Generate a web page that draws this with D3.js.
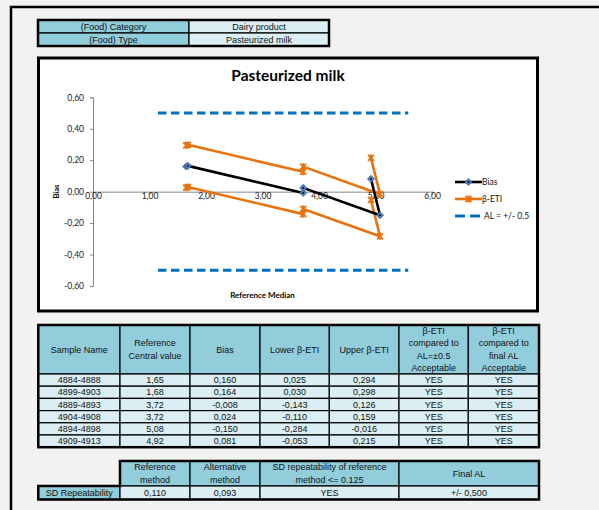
<!DOCTYPE html>
<html><head><meta charset="utf-8">
<script src="https://cdn.jsdelivr.net/npm/d3@7"></script>
<style>body{margin:0;background:#f2f2f2;} svg{display:block}</style>
</head><body><svg id="c" width="599" height="510"></svg>
<script>
// ---------------- data ----------------
const foodLabels = ["(Food) Category", "(Food) Type"];
const foodValues = ["Dairy product", "Pasteurized milk"];
const chartTitle = "Pasteurized milk";
const sampleNames = ["4884-4888","4899-4903","4889-4893","4904-4908","4894-4898","4909-4913"];
const refCentral = [1.65, 1.68, 3.72, 3.72, 5.08, 4.92];
const bias = [0.160, 0.164, -0.008, 0.024, -0.150, 0.081];
const lowerETI = [0.025, 0.030, -0.143, -0.110, -0.284, -0.053];
const upperETI = [0.294, 0.298, 0.126, 0.159, -0.016, 0.215];
const accAL = ["YES","YES","YES","YES","YES","YES"];
const accFinal = ["YES","YES","YES","YES","YES","YES"];
const alLimit = 0.5;
const alX = [1.15, 5.58];
const xTicks = [0, 1, 2, 3, 4, 5, 6];
const yTicks = [-0.6, -0.4, -0.2, 0, 0.2, 0.4, 0.6];
const legendLabels = ["Bias", "β-ETI", "AL = +/- 0.5"];
const xTitle = "Reference Median";
const yTitle = "Bias";
const headers = [["Sample Name"],["Reference","Central value"],["Bias"],["Lower β-ETI"],["Upper β-ETI"],
  ["β-ETI","compared to","AL=±0.5","Acceptable"],["β-ETI","compared to","final AL","Acceptable"]];
const sdHeaders = [["Reference","method"],["Alternative","method"],["SD repeatability of reference","method <= 0.125"],["Final AL"]];
const sdRowLabel = "SD Repeatability";
const sdValues = [0.110, 0.093];
const sdOk = "YES";
const finalAL = 0.5;

// ---------------- helpers ----------------
const loc = d3.formatLocale({decimal: ",", thousands: ".", grouping: [3], currency: ["", ""], minus: "-"});
const f2 = loc.format(".2f"), f3 = loc.format(".3f");
const svg = d3.select("#c");
const HEAD = "#92CDDC", CELL = "#DAEEF3";
const tblFont = "'Liberation Sans', Arial, sans-serif";
const chFont = "Lato, 'Open Sans', sans-serif";
const ORANGE = "#E8720C", BLUE = "#0070C0";

// outer frame
svg.append("path").attr("d", "M11,520L11,7L610,7").attr("fill", "none").attr("stroke", "#000").attr("stroke-width", 2.5);

function cell(g, x0, x1, y0, y1, fill, lines, fs, lh) {
  g.append("rect").attr("x", x0).attr("y", y0).attr("width", x1 - x0).attr("height", y1 - y0)
    .attr("fill", fill).attr("stroke", "#000").attr("stroke-width", 1.2);
  const cy = (y0 + y1) / 2, n = lines.length;
  lines.forEach((t, i) => {
    g.append("text").attr("x", (x0 + x1) / 2).attr("y", cy + (i - (n - 1) / 2) * lh)
      .attr("dy", "0.35em").attr("text-anchor", "middle").attr("font-family", tblFont)
      .attr("font-size", fs).attr("fill", "#111").text(t);
  });
}
function frame(g, x0, x1, y0, y1) {
  g.append("rect").attr("x", x0).attr("y", y0).attr("width", x1 - x0).attr("height", y1 - y0)
    .attr("fill", "none").attr("stroke", "#000").attr("stroke-width", 2.5);
}

// ---------------- top info table ----------------
const gt = svg.append("g");
const topY = [20, 33, 46];
foodLabels.forEach((l, i) => {
  cell(gt, 38, 189, topY[i], topY[i + 1], HEAD, [l], 9, 12);
  cell(gt, 189, 329, topY[i], topY[i + 1], CELL, [foodValues[i]], 9, 12);
});
frame(gt, 38, 329, 20, 46);

// ---------------- chart ----------------
const gc = svg.append("g");
gc.append("rect").attr("x", 38.5).attr("y", 58).attr("width", 499).attr("height", 253)
  .attr("fill", "#fff").attr("stroke", "#000").attr("stroke-width", 3);

const x = d3.scaleLinear().domain([0, 6]).range([93, 432]);
const y = d3.scaleLinear().domain([-0.6, 0.6]).range([286, 97.3]);

gc.append("text").attr("x", 288).attr("y", 81).attr("text-anchor", "middle")
  .attr("font-family", chFont).attr("font-weight", "bold").attr("font-size", 15.5).text(chartTitle);

// y axis
const ya = gc.append("g").attr("transform", `translate(${x(0)},0)`)
  .call(d3.axisLeft(y).tickValues(yTicks).tickFormat(loc.format(".2f")).tickSize(3).tickPadding(6));
ya.select(".domain").attr("stroke", "#868686");
ya.selectAll(".tick line").attr("stroke", "#868686");
ya.selectAll("text").attr("font-family", chFont).attr("font-size", 8.5).attr("fill", "#222");

// x axis at y=0
const xa = gc.append("g").attr("transform", `translate(0,${y(0)})`)
  .call(d3.axisBottom(x).tickValues(xTicks).tickFormat(loc.format(".2f")).tickSize(3));
xa.select(".domain").attr("stroke", "#868686");
xa.selectAll(".tick line").attr("stroke", "#868686");
xa.selectAll("text").attr("y", 0).attr("dy", "7px").attr("font-family", chFont).attr("font-size", 8.5).attr("fill", "#222");

gc.append("text").attr("transform", `translate(59,${y(0)}) rotate(-90)`).attr("text-anchor", "middle")
  .attr("font-family", chFont).attr("font-weight", "bold").attr("font-size", 7.5).text(yTitle);
gc.append("text").attr("x", (x(0) + x(6)) / 2).attr("y", 298).attr("text-anchor", "middle")
  .attr("font-family", chFont).attr("font-weight", "bold").attr("font-size", 8).text(xTitle);

// AL lines
[alLimit, -alLimit].forEach(v => {
  gc.append("line").attr("x1", x(alX[0])).attr("x2", x(alX[1])).attr("y1", y(v)).attr("y2", y(v))
    .attr("stroke", BLUE).attr("stroke-width", 3).attr("stroke-dasharray", "8.5,4.5");
});

const line = d3.line().x(d => x(d[0])).y(d => y(d[1]));
const starPath = "M-3,-3L3,3M-3,3L3,-3M0,-3.5L0,3.5";
function star(g, cx, cy) {
  g.append("path").attr("d", starPath).attr("transform", `translate(${cx},${cy})`)
    .attr("fill", "none").attr("stroke", ORANGE).attr("stroke-width", 1.8);
}
const diamondPath = "M0,-3.6L3.6,0L0,3.6L-3.6,0Z";
function dia(g, cx, cy) {
  g.append("path").attr("d", diamondPath).attr("transform", `translate(${cx},${cy})`)
    .attr("fill", "#4F81BD").attr("stroke", "#2f5e98").attr("stroke-width", 0.7);
  g.append("circle").attr("cx", cx).attr("cy", cy).attr("r", 0.9).attr("fill", "#000");
}

[lowerETI, upperETI].forEach(arr => {
  const pts = refCentral.map((r, i) => [r, arr[i]]);
  gc.append("path").attr("d", line(pts)).attr("fill", "none").attr("stroke", ORANGE).attr("stroke-width", 2.6)
    .attr("stroke-linejoin", "round");
  pts.forEach(p => star(gc, x(p[0]), y(p[1])));
});
const bpts = refCentral.map((r, i) => [r, bias[i]]);
gc.append("path").attr("d", line(bpts)).attr("fill", "none").attr("stroke", "#000").attr("stroke-width", 2.6)
  .attr("stroke-linejoin", "round");
bpts.forEach(p => dia(gc, x(p[0]), y(p[1])));

// legend
const lg = gc.append("g");
const ly = [182, 199, 216];
lg.append("line").attr("x1", 455).attr("x2", 482).attr("y1", ly[0]).attr("y2", ly[0]).attr("stroke", "#000").attr("stroke-width", 2.6);
dia(lg, 468.5, ly[0]);
lg.append("line").attr("x1", 455).attr("x2", 482).attr("y1", ly[1]).attr("y2", ly[1]).attr("stroke", ORANGE).attr("stroke-width", 2.6);
star(lg, 468.5, ly[1]);
lg.append("line").attr("x1", 455).attr("x2", 481).attr("y1", ly[2]).attr("y2", ly[2]).attr("stroke", BLUE).attr("stroke-width", 3).attr("stroke-dasharray", "10,5");
legendLabels.forEach((t, i) => {
  lg.append("text").attr("x", i === 2 ? 484 : 482).attr("y", ly[i]).attr("dy", "0.35em")
    .attr("font-family", chFont).attr("font-size", 8.5).attr("fill", "#111").text(t);
});

// ---------------- results table ----------------
const gm = svg.append("g");
const colX = [38.3, 120, 190, 260, 329.3, 399, 468.3, 539];
const hTop = 325, hBot = 374, rowH = 12.2;
headers.forEach((h, j) => cell(gm, colX[j], colX[j + 1], hTop, hBot, HEAD, h, 9, 12.4));
sampleNames.forEach((s, i) => {
  const y0 = hBot + i * rowH, y1 = y0 + rowH;
  const vals = [s, f2(refCentral[i]), f3(bias[i]), f3(lowerETI[i]), f3(upperETI[i]), accAL[i], accFinal[i]];
  vals.forEach((v, j) => cell(gm, colX[j], colX[j + 1], y0, y1, CELL, [v], 9, 12));
});
frame(gm, colX[0], colX[7], hTop, hBot + sampleNames.length * rowH);

// ---------------- SD repeatability table ----------------
const gs = svg.append("g");
const sX = [38.3, 120, 190, 260, 399, 539];
const sTop = 461, sMid = 486, sBot = 499.5;
sdHeaders.forEach((h, j) => cell(gs, sX[j + 1], sX[j + 2], sTop, sMid, HEAD, h, 9, 12.6));
cell(gs, sX[0], sX[1], sMid, sBot, HEAD, [sdRowLabel], 9, 12);
const sdRow = [f3(sdValues[0]), f3(sdValues[1]), sdOk, "+/- " + f3(finalAL)];
sdRow.forEach((v, j) => cell(gs, sX[j + 1], sX[j + 2], sMid, sBot, CELL, [v], 9, 12));
gs.append("path").attr("d", `M${sX[1]},${sTop}H${sX[5]}V${sBot}H${sX[0]}V${sMid}H${sX[1]}Z`)
  .attr("fill", "none").attr("stroke", "#000").attr("stroke-width", 2.5);
</script></body></html>
